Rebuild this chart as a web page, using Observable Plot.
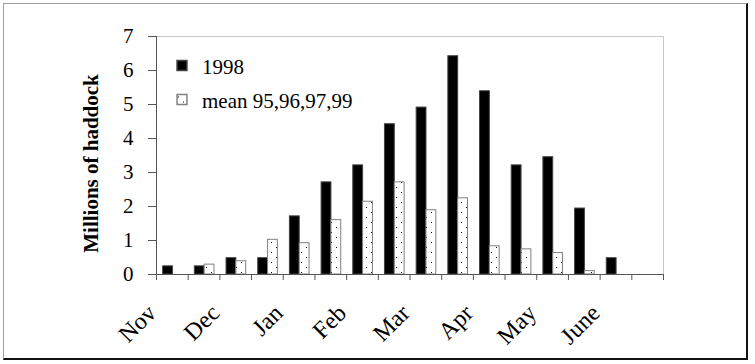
<!DOCTYPE html>
<html>
<head>
<meta charset="utf-8">
<script src="https://cdn.jsdelivr.net/npm/d3@7"></script>
<script src="https://cdn.jsdelivr.net/npm/@observablehq/plot@0.6"></script>
<style>
  html, body { margin: 0; padding: 0; background: #fff; }
  #wrap { position: relative; width: 755px; height: 364px; }
  #border { position: absolute; left: 3px; top: 3px; width: 742px; height: 354px;
    border-left: 1px solid #a0a0a0; border-top: 1px solid #a0a0a0;
    border-right: 2px solid #111; border-bottom: 2px solid #111; pointer-events: none; }
</style>
</head>
<body>
<div id="wrap"><div id="border"></div></div>
<script>
// Half-month periods, Nov .. June
const periods = d3.range(16);
const monthLabels = ["Nov", "Dec", "Jan", "Feb", "Mar", "Apr", "May", "June"];
const y1998 = [0.24, 0.24, 0.48, 0.48, 1.71, 2.71, 3.21, 4.42, 4.91, 6.42, 5.39, 3.21, 3.45, 1.94, 0.48, 0];
const yMean = [0, 0.29, 0.39, 1.02, 0.92, 1.60, 2.14, 2.71, 1.89, 2.24, 0.83, 0.74, 0.63, 0.10, 0, 0];
const seriesNames = ["1998", "mean 95,96,97,99"];
const yTicks = d3.range(8);

const rows1998 = periods.map(i => ({p: i, v: y1998[i]})).filter(d => d.v > 0);
const rowsMean = periods.map(i => ({p: i, v: yMean[i]})).filter(d => d.v > 0);
const labelRows = monthLabels.map((m, i) => ({m, p: 2 * i}));

const font = "Liberation Serif, Times New Roman, serif";

const chart = Plot.plot({
  width: 755,
  height: 364,
  marginLeft: 156,
  marginRight: 92,
  marginTop: 36,
  marginBottom: 90,
  style: {fontFamily: font, fontSize: "21px", color: "#000", background: "transparent"},
  x: {type: "linear", domain: [0, 16]},
  y: {domain: [0, 7]},
  marks: [
    Plot.ruleY([7], {stroke: "#c8c8c8"}),
    Plot.ruleX([16], {stroke: "#c8c8c8"}),
    Plot.rectY(rows1998, {x1: d => d.p + 0.21, x2: d => d.p + 0.52, y: "v", fill: "#000", stroke: "#444", strokeWidth: 1}),
    Plot.rectY(rowsMean, {x1: d => d.p + 0.52, x2: d => d.p + 0.83, y: "v", fill: "url(#dots)", stroke: "#808080", strokeWidth: 1}),
    Plot.ruleX([0], {stroke: "#555"}),
    Plot.ruleY([0], {stroke: "#555"}),
    Plot.axisX({ticks: d3.range(17), tickSize: 6, tickFormat: () => "", stroke: "#555", label: null}),
    Plot.axisY({ticks: yTicks, tickSize: 8, tickPadding: 15, tickFormat: "d", fontSize: 21, stroke: "#555", label: null}),
    Plot.text(labelRows, {x: "p", y: 0, text: "m", rotate: -45, textAnchor: "end", lineAnchor: "top", dx: -11, dy: 28, fontSize: 24}),
    Plot.text(["Millions of haddock"], {frameAnchor: "left", rotate: -90, textAnchor: "middle", dx: -65, dy: 8, fontWeight: "bold", fontSize: 21}),
    // legend
    Plot.dot([seriesNames[0]], {frameAnchor: "top-left", dx: 25.5, dy: 29, symbol: "square", r: 5.6, fill: "#000", stroke: "#444"}),
    Plot.text([seriesNames[0]], {frameAnchor: "top-left", dx: 45.5, dy: 30.5, textAnchor: "start", lineAnchor: "middle", fontSize: 21}),
    Plot.dot([seriesNames[1]], {frameAnchor: "top-left", dx: 25.5, dy: 63, symbol: "square", r: 5.6, fill: "url(#dots)", stroke: "#808080"}),
    Plot.text([seriesNames[1]], {frameAnchor: "top-left", dx: 45.5, dy: 64.5, textAnchor: "start", lineAnchor: "middle", fontSize: 21})
  ]
});

const svg = d3.select(chart);
const defs = svg.insert("defs", ":first-child");
const pat = defs.append("pattern").attr("id", "dots").attr("patternUnits", "userSpaceOnUse")
  .attr("width", 10).attr("height", 10);
pat.append("rect").attr("width", 10).attr("height", 10).attr("fill", "#fff");
pat.append("rect").attr("x", 1).attr("y", 2).attr("width", 1).attr("height", 1).attr("fill", "#000");
pat.append("rect").attr("x", 6).attr("y", 7).attr("width", 1).attr("height", 1).attr("fill", "#000");

document.getElementById("wrap").insertBefore(chart, document.getElementById("border"));
</script>
</body>
</html>
